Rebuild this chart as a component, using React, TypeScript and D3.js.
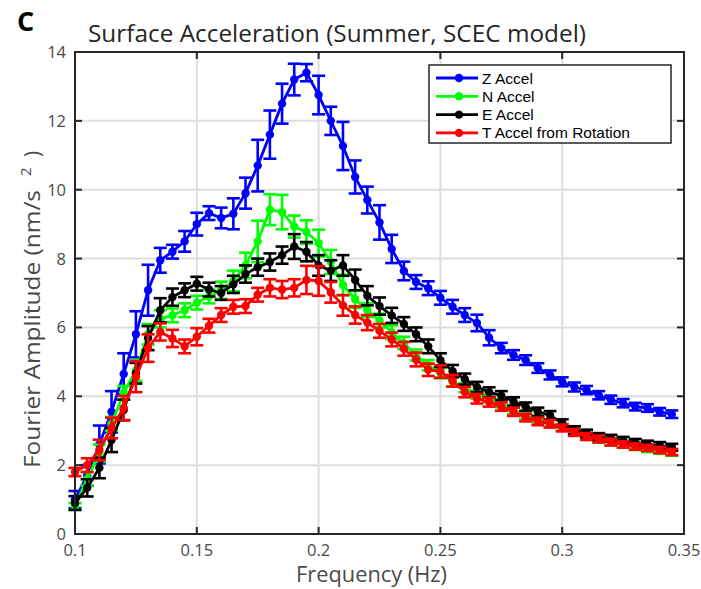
import React from "react";
import * as d3 from "d3";

const freqs = [
  0.1, 0.105, 0.11, 0.115, 0.12, 0.125, 0.13, 0.135, 0.14, 0.145,
  0.15, 0.155, 0.16, 0.165, 0.17, 0.175, 0.18, 0.185, 0.19, 0.195,
  0.2, 0.205, 0.21, 0.215, 0.22, 0.225, 0.23, 0.235, 0.24, 0.245,
  0.25, 0.255, 0.26, 0.265, 0.27, 0.275, 0.28, 0.285, 0.29, 0.295,
  0.3, 0.305, 0.31, 0.315, 0.32, 0.325, 0.33, 0.335, 0.34, 0.345,
];

const zAccel = [
  1.0, 1.7, 2.6, 3.55, 4.65, 5.8, 7.08, 7.95, 8.2, 8.5,
  9.0, 9.32, 9.18, 9.3, 9.9, 10.7, 11.6, 12.5, 13.2, 13.4,
  12.75, 12.0, 11.27, 10.37, 9.7, 9.05, 8.28, 7.64, 7.32, 7.14,
  6.86, 6.6, 6.36, 6.13, 5.7, 5.4, 5.2, 5.05, 4.82, 4.62,
  4.42, 4.27, 4.18, 4.03, 3.9, 3.8, 3.7, 3.66, 3.55, 3.48,
];
const zErr = [
  0.25, 0.3, 0.55, 0.6, 0.6, 0.67, 0.74, 0.36, 0.2, 0.3,
  0.33, 0.2, 0.3, 0.45, 0.45, 0.75, 0.7, 0.58, 0.46, 0.25,
  0.56, 0.41, 0.7, 0.48, 0.39, 0.5, 0.41, 0.27, 0.2, 0.2,
  0.2, 0.2, 0.2, 0.24, 0.22, 0.15, 0.14, 0.14, 0.14, 0.13,
  0.13, 0.13, 0.12, 0.12, 0.12, 0.12, 0.11, 0.11, 0.11, 0.11,
];

const nAccel = [
  0.8, 1.6, 2.35, 3.2, 4.1, 4.75, 5.8, 6.25, 6.35, 6.5,
  6.72, 6.9, 7.08, 7.35, 7.8, 8.5, 9.42, 9.35, 8.93, 8.77,
  8.45, 7.9, 7.23, 6.82, 6.5, 6.2, 5.86, 5.55, 5.2, 4.9,
  4.67, 4.42, 4.25, 4.05, 3.95, 3.8, 3.6, 3.45, 3.33, 3.22,
  3.1, 2.97, 2.85, 2.75, 2.67, 2.6, 2.53, 2.47, 2.42, 2.36,
];
const nErr = [
  0.1, 0.2, 0.25, 0.2, 0.2, 0.3, 0.3, 0.25, 0.2, 0.2,
  0.2, 0.2, 0.25, 0.3, 0.37, 0.6, 0.45, 0.5, 0.32, 0.34,
  0.39, 0.35, 0.3, 0.25, 0.2, 0.2, 0.2, 0.18, 0.16, 0.15,
  0.15, 0.14, 0.13, 0.12, 0.12, 0.12, 0.11, 0.11, 0.1, 0.1,
  0.1, 0.1, 0.1, 0.1, 0.1, 0.09, 0.09, 0.09, 0.09, 0.09,
];

const eAccel = [
  0.9, 1.34, 1.92, 2.73, 3.6, 4.67, 5.69, 6.5, 6.88, 7.08,
  7.27, 7.1, 7.0, 7.25, 7.55, 7.75, 7.9, 8.1, 8.35, 8.2,
  7.8, 7.65, 7.8, 7.38, 6.92, 6.62, 6.35, 6.1, 5.8, 5.45,
  5.05, 4.73, 4.5, 4.27, 4.12, 4.02, 3.85, 3.7, 3.55, 3.45,
  3.22, 3.02, 2.92, 2.83, 2.78, 2.72, 2.66, 2.61, 2.57, 2.52,
];
const eErr = [
  0.2, 0.25, 0.3, 0.35, 0.3, 0.3, 0.35, 0.35, 0.25, 0.2,
  0.2, 0.2, 0.2, 0.25, 0.25, 0.25, 0.25, 0.25, 0.36, 0.28,
  0.3, 0.3, 0.3, 0.3, 0.28, 0.25, 0.22, 0.2, 0.2, 0.2,
  0.2, 0.18, 0.16, 0.15, 0.14, 0.13, 0.12, 0.12, 0.12, 0.12,
  0.11, 0.11, 0.11, 0.1, 0.1, 0.1, 0.1, 0.1, 0.1, 0.1,
];

const tAccel = [
  1.8, 2.0, 2.44, 3.08, 3.66, 4.57, 5.4, 5.87, 5.68, 5.45,
  5.73, 6.05, 6.36, 6.6, 6.62, 6.95, 7.15, 7.1, 7.15, 7.38,
  7.35, 7.02, 6.64, 6.36, 6.14, 5.9, 5.65, 5.38, 5.07, 4.77,
  4.72, 4.45, 4.12, 3.93, 3.83, 3.7, 3.55, 3.38, 3.27, 3.2,
  3.08, 2.95, 2.83, 2.76, 2.67, 2.6, 2.54, 2.5, 2.44, 2.38,
];
const tErr = [
  0.12, 0.2, 0.3, 0.3, 0.35, 0.45, 0.4, 0.25, 0.25, 0.2,
  0.25, 0.2, 0.2, 0.2, 0.2, 0.2, 0.25, 0.25, 0.25, 0.41,
  0.43, 0.3, 0.3, 0.25, 0.22, 0.2, 0.2, 0.2, 0.2, 0.18,
  0.18, 0.17, 0.15, 0.14, 0.13, 0.12, 0.12, 0.11, 0.11, 0.11,
  0.1, 0.1, 0.1, 0.1, 0.1, 0.09, 0.09, 0.09, 0.09, 0.09,
];

const seriesNames = ["Z Accel", "N Accel", "E Accel", "T Accel from Rotation"];
const seriesColors = ["#0000ff", "#00ff00", "#000000", "#ff0000"];
const seriesValues = [zAccel, nAccel, eAccel, tAccel];
const seriesErrors = [zErr, nErr, eErr, tErr];

const xTicks = [0.1, 0.15, 0.2, 0.25, 0.3, 0.35];
const yTicks = [0, 2, 4, 6, 8, 10, 12, 14];

const W = 701;
const H = 589;
const M = { left: 75, right: 684, top: 52, bottom: 534 };
const FONT = "'Open Sans', 'DejaVu Sans', sans-serif";
const LEGEND_FONT = "'Liberation Sans', Arial, sans-serif";

export default function App() {
  const x = d3.scaleLinear().domain([0.1, 0.35]).range([M.left, M.right]);
  const y = d3.scaleLinear().domain([0, 14]).range([M.bottom, M.top]);
  const line = d3
    .line<number>()
    .x((_, i) => x(freqs[i]))
    .y((d) => y(d));
  const cap = 6.5;
  const axisColor = "#262626";
  const labelColor = "#4a4a4a";
  const tickLen = 7;

  return (
    <svg
      width={W}
      height={H}
      style={{ position: "absolute", left: 0, top: 0, background: "#fff" }}
      fontFamily={FONT}
    >
      <rect width={W} height={H} fill="#fff" />
      {/* grid */}
      {xTicks.slice(1, -1).map((t) => (
        <line key={"gx" + t} x1={x(t)} x2={x(t)} y1={M.top} y2={M.bottom} stroke="#dedede" strokeWidth={2} />
      ))}
      {yTicks.slice(1, -1).map((t) => (
        <line key={"gy" + t} x1={M.left} x2={M.right} y1={y(t)} y2={y(t)} stroke="#dedede" strokeWidth={2} />
      ))}
      {/* series */}
      {seriesValues.map((vals, s) => (
        <g key={"s" + s}>
          {vals.map((v, i) => {
            const cx = x(freqs[i]);
            const e = seriesErrors[s][i];
            const y1 = y(v + e);
            const y2 = y(v - e);
            return (
              <g key={i} stroke={seriesColors[s]} strokeWidth={2.6}>
                <line x1={cx} x2={cx} y1={y1} y2={y2} />
                <line x1={cx - cap} x2={cx + cap} y1={y1} y2={y1} />
                <line x1={cx - cap} x2={cx + cap} y1={y2} y2={y2} />
              </g>
            );
          })}
          <path d={line(vals) || ""} fill="none" stroke={seriesColors[s]} strokeWidth={2.8} />
          {vals.map((v, i) => (
            <circle key={"c" + i} cx={x(freqs[i])} cy={y(v)} r={4.2} fill={seriesColors[s]} />
          ))}
        </g>
      ))}
      {/* axes box */}
      <rect
        x={M.left}
        y={M.top}
        width={M.right - M.left}
        height={M.bottom - M.top}
        fill="none"
        stroke={axisColor}
        strokeWidth={2}
      />
      {xTicks.map((t) => (
        <g key={"xt" + t} stroke={axisColor} strokeWidth={2}>
          <line x1={x(t)} x2={x(t)} y1={M.bottom} y2={M.bottom - tickLen} />
          <line x1={x(t)} x2={x(t)} y1={M.top} y2={M.top + tickLen} />
        </g>
      ))}
      {yTicks.map((t) => (
        <g key={"yt" + t} stroke={axisColor} strokeWidth={2}>
          <line x1={M.left} x2={M.left + tickLen} y1={y(t)} y2={y(t)} />
          <line x1={M.right} x2={M.right - tickLen} y1={y(t)} y2={y(t)} />
        </g>
      ))}
      {xTicks.map((t) => (
        <text key={"xl" + t} x={x(t)} y={M.bottom + 22} textAnchor="middle" fontSize={16.5} fill={labelColor}>
          {String(t)}
        </text>
      ))}
      {yTicks.map((t) => (
        <text key={"yl" + t} x={M.left - 9} y={y(t) + 6} textAnchor="end" fontSize={16.5} fill={labelColor}>
          {String(t)}
        </text>
      ))}
      {/* labels */}
      <text
        x={296}
        y={582}
        fontSize={21}
        fill={labelColor}
        textLength={151}
        lengthAdjust="spacingAndGlyphs"
      >
        Frequency (Hz)
      </text>
      <g transform="translate(40, 0) rotate(-90)">
        <text
          x={-468}
          y={0}
          fontSize={21}
          fill={labelColor}
          textLength={278}
          lengthAdjust="spacingAndGlyphs"
        >
          Fourier Amplitude (nm/s
        </text>
        <text x={-176} y={-9} fontSize={15} fill={labelColor}>
          2
        </text>
        <text x={-157} y={0} fontSize={21} fill={labelColor}>
          )
        </text>
      </g>
      <text
        x={88}
        y={42}
        fontSize={23}
        fill="#262626"
        textLength={498}
        lengthAdjust="spacingAndGlyphs"
      >
        Surface Acceleration (Summer, SCEC model)
      </text>
      <text x={17} y={31} fontSize={27} fontWeight="bold" fill="#000">
        C
      </text>
      {/* legend */}
      <g>
        <rect x={429} y={65} width={242} height={78} fill="#fff" stroke="#262626" strokeWidth={1.5} />
        {seriesNames.map((name, s) => {
          const ly = 78 + s * 18.3;
          return (
            <g key={"lg" + s}>
              <line x1={436} x2={478} y1={ly} y2={ly} stroke={seriesColors[s]} strokeWidth={2.8} />
              <circle cx={459} cy={ly} r={4.2} fill={seriesColors[s]} />
              <text x={482} y={ly + 5.5} fontSize={15.5} fontFamily={LEGEND_FONT} fill="#000">
                {name}
              </text>
            </g>
          );
        })}
      </g>
    </svg>
  );
}
